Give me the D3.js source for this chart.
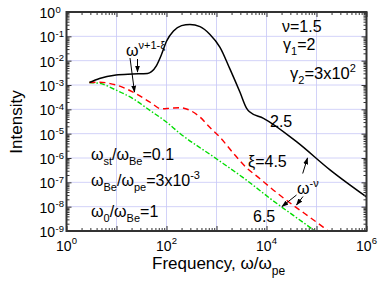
<!DOCTYPE html>
<html>
<head>
<meta charset="utf-8">
<script src="https://cdn.jsdelivr.net/npm/d3@7"></script>
<style>
  body { margin: 0; background: #fff; }
  svg { display: block; font-family: "Liberation Sans", Arial, sans-serif; }
</style>
</head>
<body>
<svg width="380" height="281"></svg>
<script>
// spectra (frequency in units of w_pe, intensity arb.)
const freqBlack = [2.88, 4.57, 9.77, 20.9, 41.7, 50.1, 63.1, 79.4, 100, 138, 200, 295, 468, 741, 1175, 1862, 2951, 3981, 4571, 8710, 39800, 186000, 1e6];
const intBlack = [1.26e-3, 1.86e-3, 2.57e-3, 2.82e-3, 3.0e-3, 3.55e-3, 6.3e-3, 1.78e-2, 6.3e-2, 0.166, 0.275, 0.309, 0.251, 0.12, 3.55e-2, 4.47e-3, 5.0e-4, 1.12e-4, 7.9e-5, 4.27e-5, 4.68e-6, 3.24e-7, 2.5e-8];

const freqRed = [2.88, 4.57, 9.77, 20.9, 45.7, 79.4, 117, 186, 295, 468, 741, 1175, 2188, 3981, 7413, 12590, 138000, 200000];
const intRed = [1.26e-3, 1.3e-3, 1.0e-3, 5.25e-4, 2.04e-4, 1.05e-4, 1.1e-4, 1.17e-4, 9.1e-5, 4.8e-5, 1.78e-5, 7.1e-6, 1.55e-6, 4.0e-7, 1.41e-7, 5.6e-8, 1.41e-9, 7.9e-10];

const freqGreen = [2.88, 4.57, 9.77, 20.9, 45.7, 97.7, 186, 871, 3981, 11750, 87100, 100000];
const intGreen = [1.26e-3, 1.17e-3, 6.2e-4, 2.82e-4, 9.3e-5, 3.1e-5, 1.02e-5, 1.12e-6, 1.23e-7, 2.19e-8, 1.1e-9, 8.9e-10];

const xExponents = [0, 2, 4, 6];
const yExponents = [0, -1, -2, -3, -4, -5, -6, -7, -8, -9];

const svg = d3.select("svg");
const pL = 66.5, pR = 366.5, pT = 12, pB = 231;

const x = d3.scaleLog().domain([1, 1e6]).range([pL, pR]);
const y = d3.scaleLog().domain([1e-9, 1]).range([pB, pT]);

// decade + minor tick values
const xMajor = d3.range(0, 7).map(k => Math.pow(10, k));
const yMajor = d3.range(-9, 1).map(k => Math.pow(10, k));
const minorOf = (lo, hi) => {
  let out = [];
  for (let k = lo; k < hi; k++) for (let m = 2; m <= 9; m++) out.push(m * Math.pow(10, k));
  return out;
};
const xMinor = minorOf(0, 6);
const yMinor = minorOf(-9, 0);

/* --------- GRID --------- */
const grid = svg.append("g").attr("stroke", "#c6c6f6").attr("stroke-width", 0.8);
grid.selectAll("line.gx").data(xMajor.slice(1, -1)).enter().append("line")
  .attr("x1", d => x(d)).attr("x2", d => x(d)).attr("y1", pT).attr("y2", pB);
grid.selectAll("line.gy").data(yMajor.slice(1, -1)).enter().append("line")
  .attr("y1", d => y(d)).attr("y2", d => y(d)).attr("x1", pL).attr("x2", pR);

/* --------- CURVES --------- */
svg.append("clipPath").attr("id", "clip").append("rect")
  .attr("x", pL).attr("y", pT).attr("width", pR - pL).attr("height", pB - pT);

const line = d3.line().x(d => x(d[0])).y(d => y(d[1])).curve(d3.curveMonotoneX);
const plot = svg.append("g").attr("clip-path", "url(#clip)").attr("fill", "none");

plot.append("path").datum(d3.zip(freqGreen, intGreen)).attr("d", line)
  .attr("stroke", "#00dd00").attr("stroke-width", 1.4).attr("stroke-dasharray", "5,2,1.5,2");
plot.append("path").datum(d3.zip(freqRed, intRed)).attr("d", line)
  .attr("stroke", "#ff0000").attr("stroke-width", 1.4).attr("stroke-dasharray", "6,4");
plot.append("path").datum(d3.zip(freqBlack, intBlack)).attr("d", line)
  .attr("stroke", "#000").attr("stroke-width", 1.5);

/* --------- AXES --------- */
function ticks(axis, tr, vals, size) {
  const g = svg.append("g").attr("transform", tr)
    .call(axis.tickValues(vals).tickSize(size).tickFormat(""));
  g.select(".domain").remove();
  g.selectAll(".tick line").attr("stroke", "#333").attr("stroke-width", 1);
}
ticks(d3.axisBottom(x), `translate(0,${pB})`, xMajor, -5);
ticks(d3.axisBottom(x), `translate(0,${pB})`, xMinor, -3);
ticks(d3.axisTop(x), `translate(0,${pT})`, xMajor, -5);
ticks(d3.axisTop(x), `translate(0,${pT})`, xMinor, -3);
ticks(d3.axisLeft(y), `translate(${pL},0)`, yMajor, -5);
ticks(d3.axisLeft(y), `translate(${pL},0)`, yMinor, -3);
ticks(d3.axisRight(y), `translate(${pR},0)`, yMajor, -5);
ticks(d3.axisRight(y), `translate(${pR},0)`, yMinor, -3);

svg.append("rect").attr("x", pL).attr("y", pT)
  .attr("width", pR - pL).attr("height", pB - pT)
  .attr("fill", "none").attr("stroke", "#333").attr("stroke-width", 2);

// tick labels 10^n
const xl = svg.append("g").attr("font-size", 14).attr("fill", "#000");
xExponents.forEach(e => {
  const t = xl.append("text").attr("x", x(Math.pow(10, e))).attr("y", 251).attr("text-anchor", "middle");
  t.append("tspan").text("10");
  t.append("tspan").attr("font-size", 9.5).attr("dy", -7).text(e);
});
const yl = svg.append("g").attr("font-size", 14).attr("fill", "#000");
yExponents.forEach(e => {
  const yy = y(Math.pow(10, e));
  yl.append("text").attr("x", 55).attr("y", yy + 6).attr("text-anchor", "end").text("10");
  yl.append("text").attr("x", 55.5).attr("y", yy + 0.5).attr("font-size", 9.5)
    .text(e === 0 ? "0" : "-" + Math.abs(e));
});

// axis titles
const xt = svg.append("text").attr("x", 152).attr("y", 269).attr("font-size", 17);
xt.append("tspan").text("Frequency, \u03c9/\u03c9");
xt.append("tspan").attr("font-size", 12).attr("dy", 6).text("pe");
svg.append("text").attr("transform", "translate(22,122) rotate(-90)")
  .attr("text-anchor", "middle").attr("font-size", 17).text("Intensity");

/* --------- ANNOTATIONS --------- */
svg.append("defs").append("marker").attr("id", "ah")
  .attr("viewBox", "0 0 10 10").attr("refX", 9).attr("refY", 5)
  .attr("markerWidth", 7).attr("markerHeight", 7).attr("markerUnits", "userSpaceOnUse")
  .attr("orient", "auto")
  .append("path").attr("d", "M0,1.5L10,5L0,8.5z").attr("fill", "#000");

const arrows = [
  [130, 58, 134.5, 92],
  [137.5, 59, 137.5, 72],
  [302.7, 173.5, 307.5, 158],
  [296.5, 195, 282, 206.5],
  [303, 196.5, 296.5, 205]
];
svg.append("g").selectAll("line").data(arrows).enter().append("line")
  .attr("x1", d => d[0]).attr("y1", d => d[1]).attr("x2", d => d[2]).attr("y2", d => d[3])
  .attr("stroke", "#000").attr("stroke-width", 1).attr("marker-end", "url(#ah)");

function label(px, py, parts, size) {
  const t = svg.append("text").attr("x", px).attr("y", py).attr("font-size", size || 16);
  let shift = 0;
  parts.forEach(p => {
    const s = t.append("tspan").text(p[0]);
    const target = p[1] === "sub" ? 5 : p[1] === "sup" ? -7 : 0;
    if (p[1]) s.attr("font-size", 11);
    if (target !== shift) { s.attr("dy", target - shift); shift = target; }
  });
  return t;
}

label(126, 56, [["\u03c9"], ["\u03bd+1-\u03be", "sup"]]);
label(297, 194, [["\u03c9"], ["-\u03bd", "sup"]]);
label(270, 127, [["2.5"]]);
label(248, 167, [["\u03be=4.5"]]);
label(253, 222, [["6.5"]]);

label(282, 32, [["\u03bd=1.5"]]);
label(283, 50, [["\u03b3"], ["1", "sub"], ["=2"]]);
label(290, 79, [["\u03b3"], ["2", "sub"], ["=3x10"], ["2", "sup"]], 16.5);

label(91, 160, [["\u03c9"], ["st", "sub"], ["/\u03c9"], ["Be", "sub"], ["=0.1"]]);
label(91, 186, [["\u03c9"], ["Be", "sub"], ["/\u03c9"], ["pe", "sub"], ["=3x10"], ["-3", "sup"]]);
label(91, 217, [["\u03c9"], ["0", "sub"], ["/\u03c9"], ["Be", "sub"], ["=1"]]);
</script>
</body>
</html>
